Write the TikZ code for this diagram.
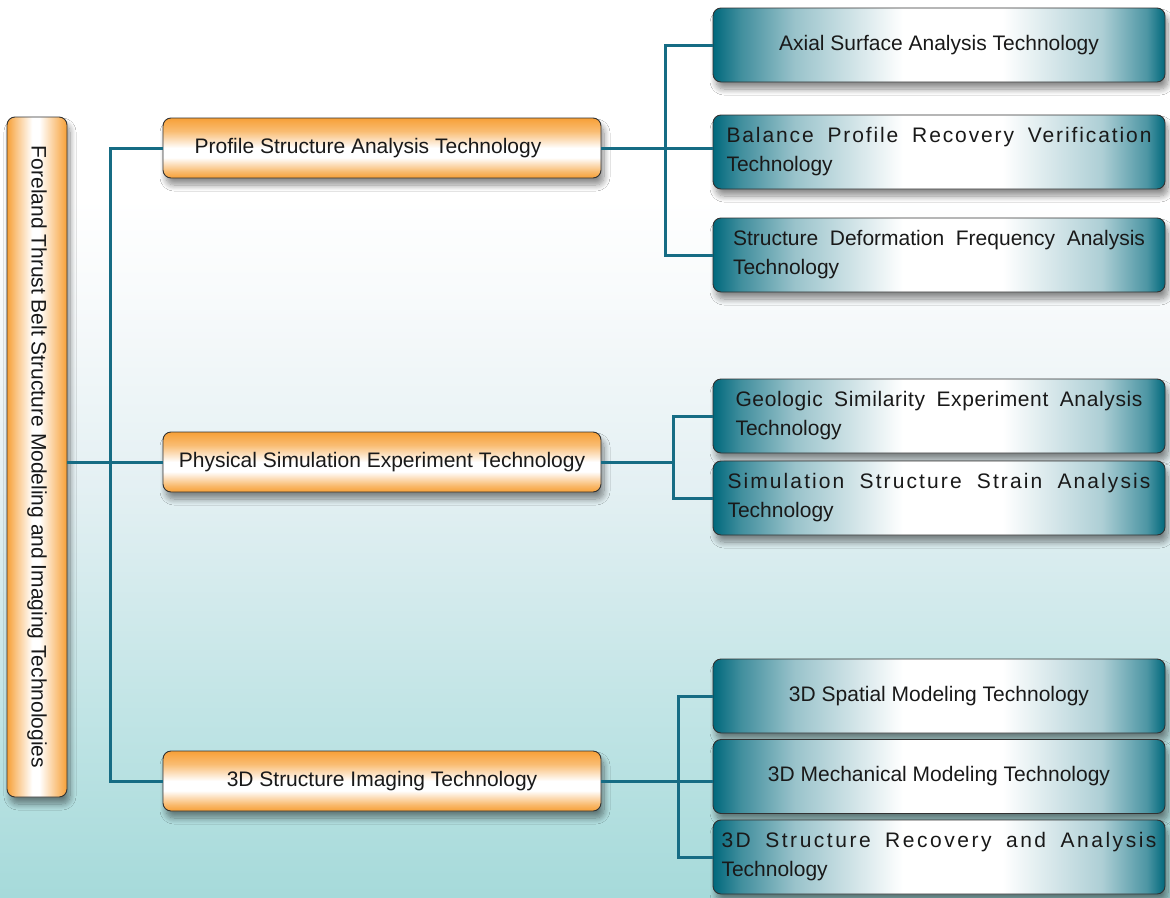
\documentclass[tikz,border=0pt]{standalone}
\usepackage{fontspec}
\setmainfont{Liberation Sans}
\usetikzlibrary{shadows.blur}

\definecolor{og}{RGB}{247,160,55}
\definecolor{tl}{RGB}{0,104,124}
\definecolor{wire}{RGB}{22,108,132}
\definecolor{edge}{RGB}{50,50,50}
\definecolor{ink}{RGB}{25,25,25}
\definecolor{bgA}{RGB}{166,218,218}
\definecolor{bgB}{RGB}{192,228,229}
\definecolor{bgC}{RGB}{228,240,243}
\definecolor{bgD}{RGB}{247,250,251}

% page background: white at the top, pale teal at the bottom
\pgfdeclareverticalshading{bgv}{100bp}{color(0bp)=(bgA); color(25bp)=(bgA); color(35bp)=(bgB); color(48bp)=(bgC); color(58bp)=(bgD); color(64bp)=(white); color(100bp)=(white)}
% orange boxes, banded top to bottom
\pgfdeclareverticalshading{ogv}{100bp}{color(0bp)=(og); color(25bp)=(og); color(30bp)=(og!75!white); color(42bp)=(white); color(50bp)=(white); color(64bp)=(og!70!white); color(75bp)=(og); color(100bp)=(og)}
% orange column, banded left to right
\pgfdeclarehorizontalshading{ogh}{100bp}{color(0bp)=(og); color(25bp)=(og); color(33bp)=(og!60!white); color(46bp)=(white); color(52bp)=(white); color(68bp)=(og!70!white); color(75bp)=(og); color(100bp)=(og)}
% teal boxes, banded left to right
\pgfdeclarehorizontalshading{tlh}{100bp}{color(0bp)=(tl); color(25bp)=(tl); color(28bp)=(tl!75!white); color(34bp)=(tl!40!white); color(46bp)=(white); color(57bp)=(white); color(68bp)=(tl!32!white); color(73bp)=(tl!70!white); color(75bp)=(tl); color(100bp)=(tl)}

% first line of a two-line label, letter-spaced and filled to the given width
\newcommand\spreadline[3]{{\addfontfeature{LetterSpace=#2}\hbox to #1{#3}}}

\tikzset{
  box/.style={draw=edge, line width=0.9pt, rounded corners=8pt, text=ink, shade,
    blur shadow={shadow xshift=3pt, shadow yshift=-7pt, shadow blur steps=10,
                 shadow blur radius=6pt, shadow opacity=45}},
  rootbox/.style={box, shading=ogh, minimum width=60pt, minimum height=680pt, inner sep=0pt},
  midbox/.style={box, shading=ogv, minimum width=438pt, minimum height=60pt, inner sep=0pt},
  leafbox/.style={box, shading=tlh, minimum width=452pt, minimum height=74pt, inner sep=0pt},
  leaftwo/.style={leafbox, align=left, text width=#1},
  conn/.style={draw=wire, line width=3pt}
}

\begin{document}
\begin{tikzpicture}[x=1pt, y=-1pt, font=\fontsize{21pt}{29pt}\selectfont]
  \useasboundingbox (0,0) rectangle (1170,897);
  \fill[shading=bgv] (0,0) rectangle (1170,897);

  % root column
  \node[rootbox] (root) at (37,457)
    {\rotatebox{-90}{Foreland Thrust Belt Structure Modeling and Imaging Technologies}};

  % second level
  \node[midbox] (m1) at (382,148) {Profile Structure Analysis Technology\hspace*{28pt}};
  \node[midbox] (m2) at (382,462) {Physical Simulation Experiment Technology};
  \node[midbox] (m3) at (382,781) {3D Structure Imaging Technology};

  % third level
  \node[leafbox] (t1) at (939,45) {Axial Surface Analysis Technology};
  \node[leaftwo=425pt] (t2) at (939,152)
    {\spreadline{425pt}{9}{Balance\hfill Profile\hfill Recovery\hfill Verification}\\Technology};
  \node[leaftwo=412pt] (t3) at (939,255)
    {\spreadline{412pt}{0}{Structure\hfill Deformation\hfill Frequency\hfill Analysis}\\Technology};
  \node[leaftwo=407pt] (t4) at (939,416)
    {\spreadline{407pt}{3}{Geologic\hfill Similarity\hfill Experiment\hfill Analysis}\\Technology};
  \node[leaftwo=423pt] (t5) at (939,498)
    {\spreadline{423pt}{10}{Simulation\hfill Structure\hfill Strain\hfill Analysis}\\Technology};
  \node[leafbox] (t6) at (939,696) {3D Spatial Modeling Technology};
  \node[leafbox] (t7) at (939,776.5) {3D Mechanical Modeling Technology};
  \node[leaftwo=435pt] (t8) at (939,857)
    {\spreadline{435pt}{12}{3D\hfill Structure\hfill Recovery\hfill and\hfill Analysis}\\Technology};

  % junction columns
  \coordinate (j0) at (110,0);
  \coordinate (j1) at (665,0);
  \coordinate (j2) at (673,0);
  \coordinate (j3) at (678,0);

  % root to second level
  \draw[conn] (m1.west) -- (m1.west -| j0) -- (m3.west -| j0) -- (m3.west);
  \draw[conn] (root.east |- m2.west) -- (m2.west);

  % profile branch
  \draw[conn] (t1.west) -- (t1.west -| j1) -- (t3.west -| j1) -- (t3.west);
  \draw[conn] (m1.east) -- (m1.east -| t2.west);

  % simulation branch
  \draw[conn] (t4.west) -- (t4.west -| j2) -- (t5.west -| j2) -- (t5.west);
  \draw[conn] (m2.east) -- (m2.east -| j2);

  % imaging branch
  \draw[conn] (t6.west) -- (t6.west -| j3) -- (t8.west -| j3) -- (t8.west);
  \draw[conn] (m3.east) -- (m3.east -| t7.west);
\end{tikzpicture}
\end{document}
